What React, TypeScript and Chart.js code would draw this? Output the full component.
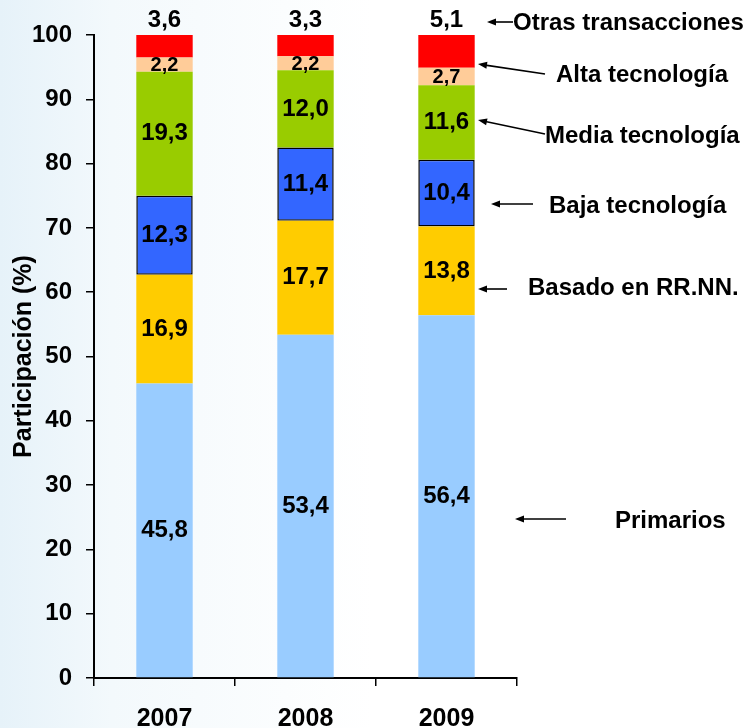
import React, { useEffect, useRef } from "react";
import { Chart, registerables } from "chart.js";

Chart.register(...registerables);

// ---------- data ----------
const years = ["2007", "2008", "2009"];
const primarios = [45.8, 53.4, 56.4];
const basadoRRNN = [16.9, 17.7, 13.8];
const bajaTecnologia = [12.3, 11.4, 10.4];
const mediaTecnologia = [19.3, 12.0, 11.6];
const altaTecnologia = [2.2, 2.2, 2.7];
const otrasTransacciones = [3.6, 3.3, 5.1];
const seriesNames = [
  "Primarios",
  "Basado en RR.NN.",
  "Baja tecnología",
  "Media tecnología",
  "Alta tecnología",
  "Otras transacciones",
];
const yAxisTitle = "Participación (%)";

// ---------- styles ----------
const FONT = "'Liberation Sans', Arial, Helvetica, sans-serif";
const colors = ["#99CCFF", "#FFCC00", "#3366FF", "#99CC00", "#FFCC99", "#FF0000"];

// annotation placement (text baseline + arrow tail/head), index matches seriesNames
const annotations = [
  { series: 0, tx: 615, ty: 528, ax1: 566, ay1: 519, ax2: 515, ay2: 519 },
  { series: 1, tx: 528, ty: 295, ax1: 507, ay1: 289, ax2: 478, ay2: 289 },
  { series: 2, tx: 549, ty: 213, ax1: 533, ay1: 204, ax2: 491, ay2: 204 },
  { series: 3, tx: 545, ty: 143, ax1: 545, ay1: 134, ax2: 478, ay2: 120 },
  { series: 4, tx: 556, ty: 82, ax1: 545, ay1: 74, ax2: 478, ay2: 64 },
  { series: 5, tx: 513, ty: 30, ax1: 513, ay1: 22, ax2: 487, ay2: 22 },
];

const fmt = (v: number) => v.toFixed(1).replace(".", ",");

function drawArrow(ctx: CanvasRenderingContext2D, x1: number, y1: number, x2: number, y2: number) {
  ctx.save();
  ctx.strokeStyle = "#000";
  ctx.fillStyle = "#000";
  ctx.lineWidth = 1.6;
  const ang = Math.atan2(y2 - y1, x2 - x1);
  const len = 9;
  const w = 3.5;
  const cos = Math.cos(ang);
  const sin = Math.sin(ang);
  ctx.beginPath();
  ctx.moveTo(x1, y1);
  ctx.lineTo(x2 - cos * 4, y2 - sin * 4);
  ctx.stroke();
  ctx.beginPath();
  ctx.moveTo(x2, y2);
  ctx.lineTo(x2 - len * cos + w * sin, y2 - len * sin - w * cos);
  ctx.lineTo(x2 - len * cos - w * sin, y2 - len * sin + w * cos);
  ctx.closePath();
  ctx.fill();
  ctx.restore();
}

const backgroundPlugin = {
  id: "bg",
  beforeDraw(chart: any) {
    const { ctx, width, height } = chart;
    ctx.save();
    const g = ctx.createLinearGradient(0, 0, width * 0.5, 0);
    g.addColorStop(0, "#E6F2F9");
    g.addColorStop(0.3, "#F3F9FC");
    g.addColorStop(1, "#FFFFFF");
    ctx.fillStyle = g;
    ctx.fillRect(0, 0, width, height);
    ctx.restore();
  },
};

const valueLabelPlugin = {
  id: "valueLabels",
  afterDatasetsDraw(chart: any) {
    const ctx = chart.ctx;
    ctx.save();
    ctx.fillStyle = "#000";
    ctx.textAlign = "center";
    ctx.textBaseline = "middle";
    chart.data.datasets.forEach((ds: any, i: number) => {
      const meta = chart.getDatasetMeta(i);
      meta.data.forEach((el: any, j: number) => {
        const { x, y, base } = el.getProps(["x", "y", "base"], true);
        const v = ds.data[j];
        if (i === 5) {
          ctx.font = `bold 24px ${FONT}`;
          ctx.fillText(fmt(v), x, Math.max(y, chart.chartArea.top) - 15);
        } else if (i === 4) {
          ctx.font = `bold 20px ${FONT}`;
          ctx.fillText(fmt(v), x, (y + base) / 2 + 1);
        } else {
          ctx.font = `bold 24px ${FONT}`;
          ctx.fillText(fmt(v), x, (y + base) / 2);
        }
      });
    });
    ctx.restore();
  },
};

const annotationPlugin = {
  id: "sideNotes",
  afterDraw(chart: any) {
    const ctx = chart.ctx;
    ctx.save();
    ctx.fillStyle = "#000";
    ctx.font = `bold 24px ${FONT}`;
    ctx.textAlign = "left";
    ctx.textBaseline = "alphabetic";
    annotations.forEach((a) => {
      ctx.fillText(seriesNames[a.series], a.tx, a.ty);
      drawArrow(ctx, a.ax1, a.ay1, a.ax2, a.ay2);
    });
    ctx.restore();
  },
};

export default function App() {
  const canvasRef = useRef<HTMLCanvasElement | null>(null);

  useEffect(() => {
    document.body.style.margin = "0";
    const canvas = canvasRef.current;
    if (!canvas) return;
    const seriesData = [primarios, basadoRRNN, bajaTecnologia, mediaTecnologia, altaTecnologia, otrasTransacciones];
    const chart = new Chart(canvas, {
      type: "bar",
      data: {
        labels: years,
        datasets: seriesData.map((d, i) => ({
          label: seriesNames[i],
          data: d,
          backgroundColor: colors[i],
          borderColor: "#000000",
          borderWidth: i === 2 ? 1.5 : 0,
          borderSkipped: false,
          categoryPercentage: 1,
          barPercentage: 0.4,
        })),
      },
      options: {
        responsive: false,
        animation: false,
        devicePixelRatio: 1,
        layout: { padding: { top: 35, right: 228, left: 0, bottom: 0 } },
        plugins: {
          legend: { display: false },
          tooltip: { enabled: false },
          title: { display: false },
        },
        scales: {
          x: {
            stacked: true,
            grid: {
              display: true,
              drawOnChartArea: false,
              drawTicks: true,
              tickLength: 8,
              color: "#000",
              lineWidth: 1.5,
            },
            border: { display: true, color: "#000", width: 2 },
            ticks: {
              color: "#000",
              font: { family: FONT, size: 25, weight: "bold" },
              padding: 18,
            },
            afterFit: (scale: any) => {
              scale.height = 50;
            },
          },
          y: {
            stacked: true,
            min: 0,
            max: 100,
            grid: {
              display: true,
              drawOnChartArea: false,
              drawTicks: true,
              tickLength: 8,
              color: "#000",
              lineWidth: 1.5,
            },
            border: { display: true, color: "#000", width: 2 },
            ticks: {
              stepSize: 10,
              color: "#000",
              font: { family: FONT, size: 24, weight: "bold" },
              padding: 14,
            },
            title: {
              display: true,
              text: yAxisTitle,
              color: "#000",
              font: { family: FONT, size: 25, weight: "bold" },
              padding: { top: 9, bottom: 0 },
            },
            afterFit: (scale: any) => {
              scale.width = 94;
            },
          },
        },
      },
      plugins: [backgroundPlugin, valueLabelPlugin, annotationPlugin],
    });
    return () => chart.destroy();
  }, []);

  return (
    <div style={{ position: "absolute", left: 0, top: 0, width: 745, height: 728 }}>
      <canvas ref={canvasRef} width={745} height={728} style={{ display: "block" }} />
    </div>
  );
}
